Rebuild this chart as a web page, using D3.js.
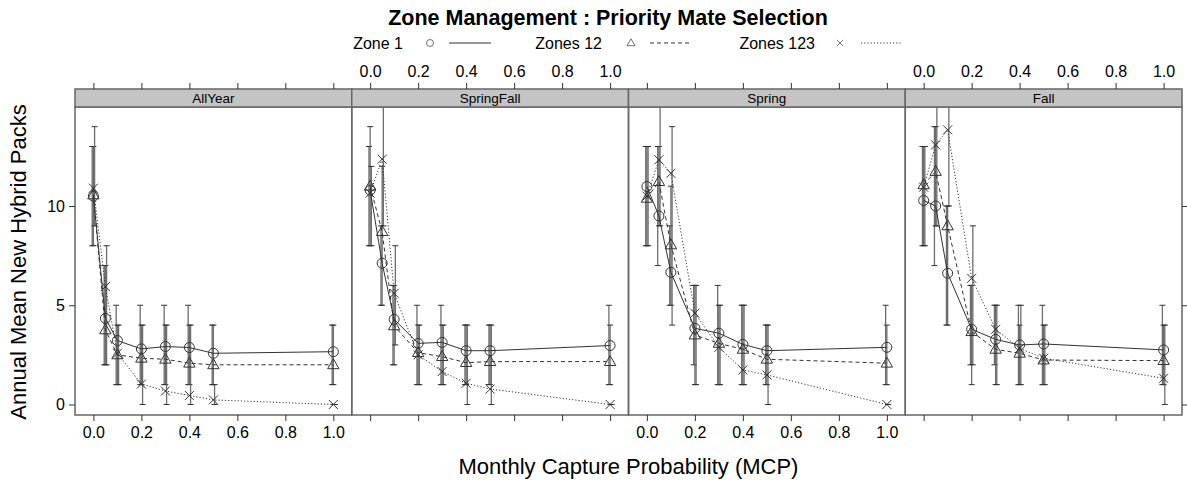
<!DOCTYPE html>
<html>
<head>
<meta charset="utf-8">
<script src="https://cdn.jsdelivr.net/npm/d3@7"></script>
<style>
  html, body { margin: 0; padding: 0; background: #fff; }
  svg { display: block; font-family: "Liberation Sans", Arial, sans-serif; }
</style>
</head>
<body>
<svg id="chart" width="1187" height="482"></svg>
<script>
// Monthly capture probabilities tested
const mcpValues = [0, 0.05, 0.1, 0.2, 0.3, 0.4, 0.5, 1.0];
// Management seasons, one panel each
const seasons = ["AllYear", "SpringFall", "Spring", "Fall"];
const zoneNames = ["Zone 1", "Zones 12", "Zones 123"];
const xTicks = [0, 0.2, 0.4, 0.6, 0.8, 1.0];
const yTicks = [0, 5, 10];

// Mean new hybrid packs per year (rows follow `seasons`)
const zone1Mean = [
  [10.5, 4.34, 3.22, 2.80, 2.92, 2.87, 2.58, 2.66],
  [10.8, 7.12, 4.29, 3.08, 3.13, 2.71, 2.71, 2.97],
  [10.98, 9.5, 6.66, 3.84, 3.59, 3.03, 2.71, 2.88],
  [10.28, 10.0, 6.61, 3.79, 3.28, 3.0, 3.05, 2.75]
];
const zones12Mean = [
  [10.56, 3.76, 2.5, 2.33, 2.28, 2.08, 2.0, 2.0],
  [11.0, 8.71, 3.96, 2.61, 2.41, 2.11, 2.16, 2.16],
  [10.39, 11.23, 8.04, 3.5, 3.08, 2.78, 2.28, 2.08],
  [11.07, 11.74, 9.0, 3.67, 2.78, 2.58, 2.24, 2.21]
];
const zones123Mean = [
  [10.9, 5.94, 2.58, 1.03, 0.68, 0.45, 0.23, 0],
  [10.65, 12.36, 5.6, 2.5, 1.66, 1.07, 0.78, 0],
  [10.5, 12.33, 11.65, 4.6, 2.88, 1.74, 1.49, 0],
  [10.95, 13.08, 13.84, 6.36, 3.79, 2.83, 2.33, 1.32]
];

// Interval bounds drawn as error bars
const zone1Low = [
  [8, 2, 1, 1, 1, 1, 1, 1],
  [8, 5, 2, 1, 1, 1, 1, 1],
  [8, 7, 5, 2, 1, 1, 1, 1],
  [8, 7, 4, 2, 2, 1, 1, 1]
];
const zone1High = [
  [13, 7, 5, 5, 5, 5, 4, 4],
  [13, 9, 6, 5, 5, 4, 4, 5],
  [13, 13, 9, 6, 6, 5, 4, 5],
  [13, 14, 10, 6, 5, 5, 5, 5]
];
const zones12Low = [
  [8, 2, 1, 1, 1, 1, 1, 1],
  [8, 5, 2, 1, 1, 1, 1, 1],
  [8, 9, 5, 1, 1, 1, 1, 1],
  [8, 9, 4, 1, 1, 1, 1, 1]
];
const zones12High = [
  [13, 7, 4, 4, 4, 4, 4, 4],
  [14, 12, 6, 4, 4, 4, 4, 4],
  [13, 13, 11, 6, 5, 5, 4, 4],
  [13, 14, 10, 6, 5, 4, 4, 4]
];
const zones123Low = [
  [9, 2, 1, 0, 0, 0, 0, 0],
  [8, 9, 3, 1, 1, 0, 0, 0],
  [8, 9, 4, 1, 1, 1, 0, 0],
  [8, 9, 10, 2, 1, 1, 1, 0]
];
const zones123High = [
  [14, 8, 4, 4, 4, 4, 1, 0],
  [12, 16, 8, 4, 4, 4, 4, 0],
  [13, 16, 14, 6, 5, 5, 4, 0],
  [13, 16, 16, 9, 5, 5, 4, 4]
];

const meansByZone = [zone1Mean, zones12Mean, zones123Mean];
const lowByZone = [zone1Low, zones12Low, zones123Low];
const highByZone = [zone1High, zones12High, zones123High];

// Layout
const plotLeft = 75, plotRight = 1182;
const stripTop = 89, stripBottom = 107, plotBottom = 415;
const panelW = (plotRight - plotLeft) / seasons.length;
const ink = "#333";
const frame = "#666";
const fontFamily = "Liberation Sans, Arial, sans-serif";

const svg = d3.select("#chart");

const y = d3.scaleLinear().domain([-0.53, 14.99]).range([plotBottom, stripBottom]);

const lineStyles = [
  { dash: null, symbol: "circle" },
  { dash: "4,3", symbol: "triangle" },
  { dash: "1.2,2", symbol: "cross" }
];

function drawSymbol(g, kind, cx, cy) {
  if (kind === "circle") {
    g.append("circle").attr("cx", cx).attr("cy", cy).attr("r", 5)
      .attr("fill", "none").attr("stroke", ink).attr("stroke-width", 1);
  } else if (kind === "triangle") {
    const s = 6;
    g.append("path")
      .attr("d", `M${cx},${cy - s}L${cx + s * 0.95},${cy + s * 0.65}L${cx - s * 0.95},${cy + s * 0.65}Z`)
      .attr("fill", "none").attr("stroke", ink).attr("stroke-width", 1);
  } else {
    const s = 4.5;
    g.append("path")
      .attr("d", `M${cx - s},${cy - s}L${cx + s},${cy + s}M${cx - s},${cy + s}L${cx + s},${cy - s}`)
      .attr("fill", "none").attr("stroke", ink).attr("stroke-width", 1);
  }
}

seasons.forEach((season, p) => {
  const x0 = plotLeft + p * panelW;
  const x = d3.scaleLinear().domain([-0.0767, 1.0767]).range([x0, x0 + panelW]);

  // clip region for the data area
  const clipId = "clip" + p;
  svg.append("clipPath").attr("id", clipId)
    .append("rect").attr("x", x0).attr("y", stripBottom)
    .attr("width", panelW).attr("height", plotBottom - stripBottom);

  const g = svg.append("g").attr("clip-path", `url(#${clipId})`);

  // error bars
  zoneNames.forEach((z, s) => {
    const off = (s - 1) * 1.2;
    mcpValues.forEach((m, i) => {
      const lo = lowByZone[s][p][i], hi = highByZone[s][p][i];
      const px = x(m) + off;
      g.append("line").attr("x1", px).attr("x2", px)
        .attr("y1", y(lo)).attr("y2", y(hi))
        .attr("stroke", "#555").attr("stroke-width", 1.3).attr("stroke-opacity", 0.85);
      [lo, hi].forEach(v => {
        g.append("line").attr("x1", px - 3).attr("x2", px + 3)
          .attr("y1", y(v)).attr("y2", y(v))
          .attr("stroke", ink).attr("stroke-width", 1);
      });
    });
  });

  // mean lines
  zoneNames.forEach((z, s) => {
    const pts = mcpValues.map((m, i) => [x(m), y(meansByZone[s][p][i])]);
    g.append("path").attr("d", d3.line()(pts))
      .attr("fill", "none").attr("stroke", ink).attr("stroke-width", 1)
      .attr("stroke-dasharray", lineStyles[s].dash);
  });

  // symbols
  zoneNames.forEach((z, s) => {
    mcpValues.forEach((m, i) => {
      drawSymbol(g, lineStyles[s].symbol, x(m), y(meansByZone[s][p][i]));
    });
  });

  // panel frame
  svg.append("rect").attr("x", x0).attr("y", stripBottom)
    .attr("width", panelW).attr("height", plotBottom - stripBottom)
    .attr("fill", "none").attr("stroke", frame).attr("stroke-width", 1.5);

  // strip
  svg.append("rect").attr("x", x0).attr("y", stripTop)
    .attr("width", panelW).attr("height", stripBottom - stripTop)
    .attr("fill", "#c4c4c4").attr("stroke", frame).attr("stroke-width", 1.5);
  svg.append("text").attr("x", x0 + panelW / 2).attr("y", stripTop + 14)
    .attr("text-anchor", "middle").attr("font-size", 13.5).attr("fill", "#000")
    .text(season);

  // bottom axis (ticks on all panels, labels on alternate panels)
  const bottom = d3.axisBottom(x).tickValues(xTicks).tickSize(6).tickPadding(6)
    .tickFormat(p % 2 === 0 ? d3.format(".1f") : () => "");
  const gb = svg.append("g").attr("transform", `translate(0,${plotBottom})`).call(bottom);
  gb.select(".domain").remove();

  // top axis
  const top = d3.axisTop(x).tickValues(xTicks).tickSize(6).tickPadding(6)
    .tickFormat(p % 2 === 1 ? d3.format(".1f") : () => "");
  const gt = svg.append("g").attr("transform", `translate(0,${stripTop})`).call(top);
  gt.select(".domain").remove();

  [gb, gt].forEach(ax => {
    ax.selectAll(".tick line").attr("stroke", ink);
    ax.selectAll("text").attr("font-size", 16).attr("fill", "#000")
      .attr("font-family", fontFamily);
  });
});

// left axis
const ly = svg.append("g").attr("transform", `translate(${plotLeft},0)`)
  .call(d3.axisLeft(y).tickValues(yTicks).tickSize(6).tickPadding(4).tickFormat(d3.format("d")));
ly.select(".domain").remove();
ly.selectAll(".tick line").attr("stroke", ink);
ly.selectAll("text").attr("font-size", 16).attr("fill", "#000")
  .attr("font-family", fontFamily);

// right axis ticks only
const ry = svg.append("g").attr("transform", `translate(${plotRight},0)`)
  .call(d3.axisRight(y).tickValues(yTicks).tickSize(6).tickFormat(() => ""));
ry.select(".domain").remove();
ry.selectAll(".tick line").attr("stroke", ink);

// title
svg.append("text").attr("x", 608).attr("y", 25)
  .attr("text-anchor", "middle").attr("font-size", 21.5).attr("font-weight", "bold")
  .text("Zone Management : Priority Mate Selection");

// legend
const legendY = 43;
const legendItems = [
  { textEnd: 403, sym: 430, l0: 449, l1: 491 },
  { textEnd: 602, sym: 631, l0: 650, l1: 692 },
  { textEnd: 815, sym: 840, l0: 861, l1: 902 }
];
const lg = svg.append("g");
legendItems.forEach((it, s) => {
  lg.append("text").attr("x", it.textEnd).attr("y", legendY + 5.5)
    .attr("text-anchor", "end").attr("font-size", 16).text(zoneNames[s]);
  const sg = lg.append("g").attr("transform", `translate(${it.sym},${legendY}) scale(0.7)`);
  drawSymbol(sg, lineStyles[s].symbol, 0, 0);
  lg.append("line").attr("x1", it.l0).attr("x2", it.l1)
    .attr("y1", legendY).attr("y2", legendY)
    .attr("stroke", ink).attr("stroke-width", 1)
    .attr("stroke-dasharray", lineStyles[s].dash);
});

// axis titles
svg.append("text").attr("x", (plotLeft + plotRight) / 2).attr("y", 474)
  .attr("text-anchor", "middle").attr("font-size", 22)
  .text("Monthly Capture Probability (MCP)");
svg.append("text")
  .attr("transform", `translate(26,${(stripTop + plotBottom) / 2 + 10}) rotate(-90)`)
  .attr("text-anchor", "middle").attr("font-size", 22)
  .text("Annual Mean New Hybrid Packs");
</script>
</body>
</html>
